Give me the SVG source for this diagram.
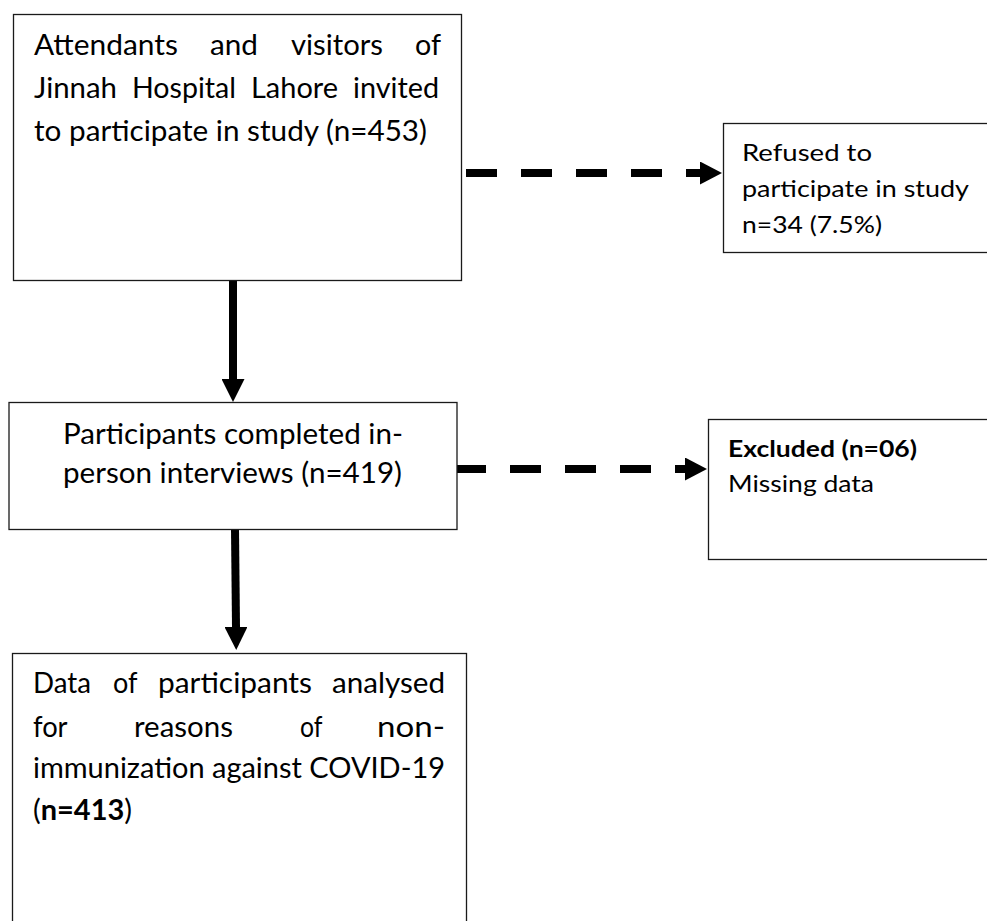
<svg xmlns="http://www.w3.org/2000/svg" width="987" height="921" viewBox="0 0 987 921">
<style>
.box{fill:#fff;stroke:#1a1a1a;stroke-width:1.3}
.t{font-family:Lato,"Open Sans","Liberation Sans",sans-serif;fill:#000}
.big{font-size:29px}
.sm{font-size:22.5px}
.b{font-weight:bold}
.solid{stroke:#000;stroke-width:8;fill:none}
.dash{stroke:#000;stroke-width:8;fill:none;stroke-dasharray:31 24}
</style>
<defs>
<marker id="headS" markerUnits="userSpaceOnUse" markerWidth="23" markerHeight="23" refX="0" refY="11.5" orient="auto" viewBox="0 0 23 23">
<path d="M0,0 L23,11.5 L0,23 Z" fill="#000"/>
</marker>
<marker id="headD" markerUnits="userSpaceOnUse" markerWidth="22" markerHeight="23" refX="0" refY="11.5" orient="auto" viewBox="0 0 22 23">
<path d="M0,0 L22,11.5 L0,23 Z" fill="#000"/>
</marker>
</defs>

<g id="connectors">
<line class="solid" x1="233" y1="281" x2="233" y2="379" marker-end="url(#headS)"/>
<line class="solid" x1="235" y1="529" x2="236" y2="627" marker-end="url(#headS)"/>
<line class="dash" x1="466" y1="173" x2="700" y2="173" marker-end="url(#headD)"/>
<line class="dash" x1="455" y1="469" x2="685" y2="469" marker-end="url(#headD)"/>
</g>

<g id="invited">
<rect class="box" x="13.5" y="14.5" width="448" height="266"/>
<text class="t big" y="55">
<tspan x="34" textLength="144" lengthAdjust="spacingAndGlyphs">Attendants</tspan>
<tspan x="210" textLength="48" lengthAdjust="spacingAndGlyphs">and</tspan>
<tspan x="291" textLength="92" lengthAdjust="spacingAndGlyphs">visitors</tspan>
<tspan x="415" textLength="26" lengthAdjust="spacingAndGlyphs">of</tspan>
</text>
<text class="t big" y="98">
<tspan x="34" textLength="83" lengthAdjust="spacingAndGlyphs">Jinnah</tspan>
<tspan x="132" textLength="104" lengthAdjust="spacingAndGlyphs">Hospital</tspan>
<tspan x="251" textLength="87" lengthAdjust="spacingAndGlyphs">Lahore</tspan>
<tspan x="353" textLength="86" lengthAdjust="spacingAndGlyphs">invited</tspan>
</text>
<text class="t big" x="34" y="141" textLength="393" lengthAdjust="spacingAndGlyphs">to participate in study (n=453)</text>
</g>

<g id="refused">
<rect class="box" x="723.5" y="123.5" width="280" height="129"/>
<text class="t sm" x="742" y="161" textLength="130" lengthAdjust="spacingAndGlyphs">Refused to</text>
<text class="t sm" x="742" y="197" textLength="227" lengthAdjust="spacingAndGlyphs">participate in study</text>
<text class="t sm" x="742" y="233" textLength="140" lengthAdjust="spacingAndGlyphs">n=34 (7.5%)</text>
</g>

<g id="completed">
<rect class="box" x="9" y="402.5" width="448" height="127"/>
<text class="t big" x="63" y="444" textLength="340" lengthAdjust="spacingAndGlyphs">Participants completed in-</text>
<text class="t big" x="63" y="483" textLength="339" lengthAdjust="spacingAndGlyphs">person interviews (n=419)</text>
</g>

<g id="excluded">
<rect class="box" x="708.5" y="419.5" width="290" height="140"/>
<text class="t sm b" x="728" y="457" textLength="189" lengthAdjust="spacingAndGlyphs">Excluded (n=06)</text>
<text class="t sm" x="728" y="492" textLength="146" lengthAdjust="spacingAndGlyphs">Missing data</text>
</g>

<g id="analysed">
<rect class="box" x="12.5" y="653.5" width="454" height="280"/>
<text class="t big" y="693">
<tspan x="33" textLength="58" lengthAdjust="spacingAndGlyphs">Data</tspan>
<tspan x="113" textLength="24" lengthAdjust="spacingAndGlyphs">of</tspan>
<tspan x="158" textLength="154" lengthAdjust="spacingAndGlyphs">participants</tspan>
<tspan x="332" textLength="113" lengthAdjust="spacingAndGlyphs">analysed</tspan>
</text>
<text class="t big" y="737">
<tspan x="33" textLength="34" lengthAdjust="spacingAndGlyphs">for</tspan>
<tspan x="134" textLength="99" lengthAdjust="spacingAndGlyphs">reasons</tspan>
<tspan x="300" textLength="22" lengthAdjust="spacingAndGlyphs">of</tspan>
<tspan x="377" textLength="68" lengthAdjust="spacingAndGlyphs">non-</tspan>
</text>
<text class="t big" x="33" y="778" textLength="412" lengthAdjust="spacingAndGlyphs">immunization against COVID-19</text>
<text class="t big" x="33" y="820" textLength="99" lengthAdjust="spacingAndGlyphs">(<tspan class="b">n=413</tspan>)</text>
</g>
</svg>
